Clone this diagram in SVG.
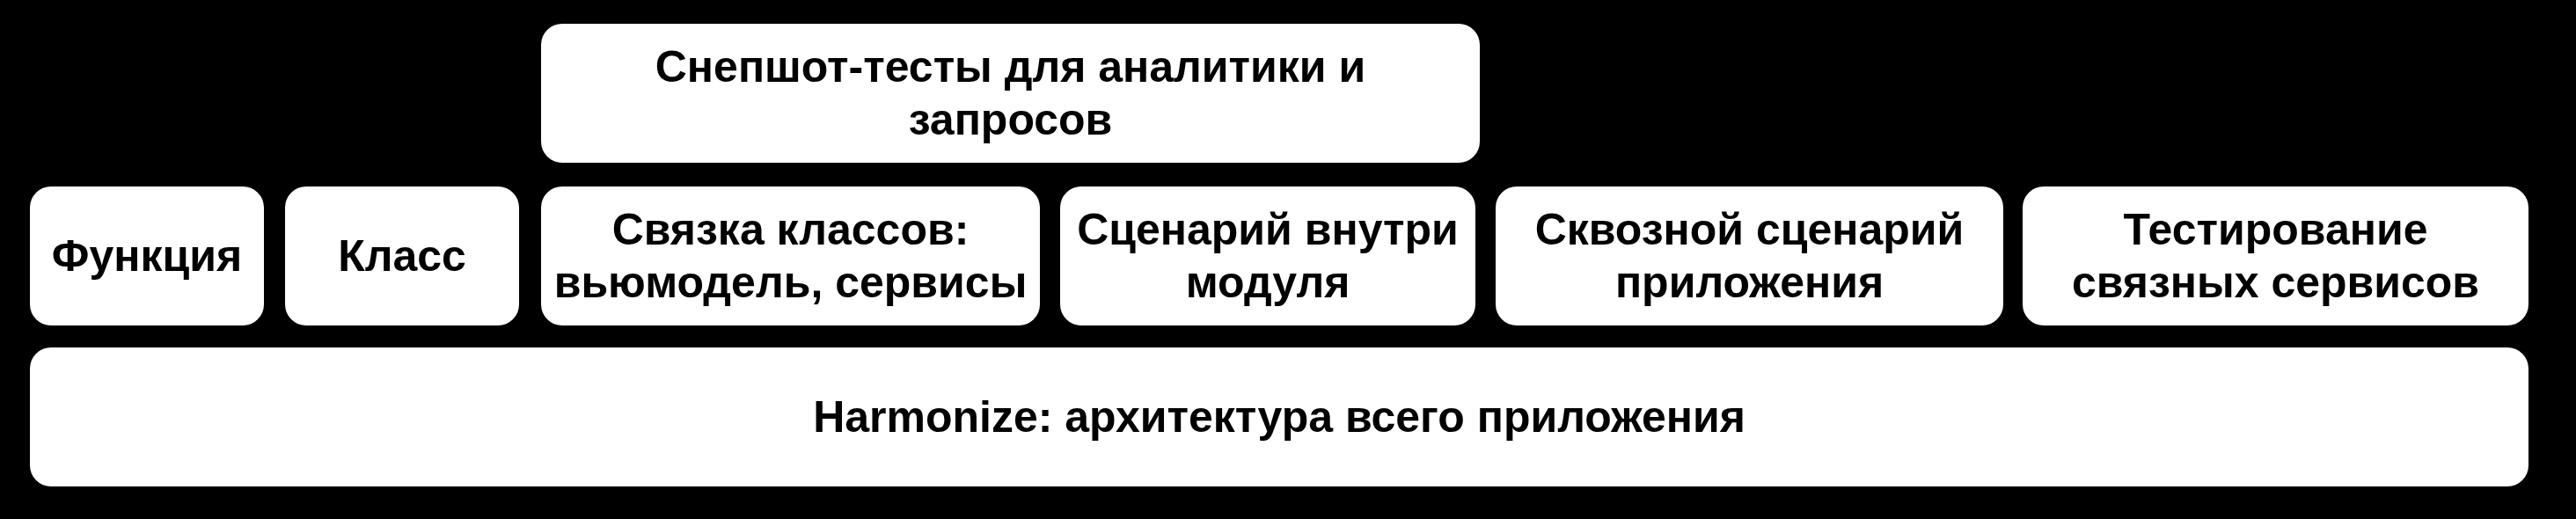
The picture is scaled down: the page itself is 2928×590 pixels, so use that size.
<svg xmlns="http://www.w3.org/2000/svg" width="2928" height="590" viewBox="0 0 2928 590">
<style>
.box{fill:#ffffff;stroke:none}
.t{font-family:"Liberation Sans",Arial,sans-serif;font-size:50px;font-weight:bold;fill:#000000;text-anchor:middle}
</style>
<rect x="0" y="0" width="2928" height="590" fill="#000000"/>
<g id="snapshot">
<rect class="box" x="615" y="27" width="1067" height="158" rx="24"/>
<text class="t" x="1148.5" y="93">Снепшот-тесты для аналитики и</text>
<text class="t" x="1148.5" y="153">запросов</text>
</g>
<g id="function">
<rect class="box" x="34" y="212" width="266" height="158" rx="24"/>
<text class="t" x="167" y="308">Функция</text>
</g>
<g id="class">
<rect class="box" x="324" y="212" width="266" height="158" rx="24"/>
<text class="t" x="457" y="308">Класс</text>
</g>
<g id="classes">
<rect class="box" x="615" y="212" width="567" height="158" rx="24"/>
<text class="t" x="898.5" y="278">Связка классов:</text>
<text class="t" x="898.5" y="338">вьюмодель, сервисы</text>
</g>
<g id="module">
<rect class="box" x="1205" y="212" width="472" height="158" rx="24"/>
<text class="t" x="1441" y="278">Сценарий внутри</text>
<text class="t" x="1441" y="338">модуля</text>
</g>
<g id="e2e">
<rect class="box" x="1700" y="212" width="577" height="158" rx="24"/>
<text class="t" x="1988.5" y="278">Сквозной сценарий</text>
<text class="t" x="1988.5" y="338">приложения</text>
</g>
<g id="services">
<rect class="box" x="2299" y="212" width="575" height="158" rx="24"/>
<text class="t" x="2586.5" y="278">Тестирование</text>
<text class="t" x="2586.5" y="338">связных сервисов</text>
</g>
<g id="harmonize">
<rect class="box" x="34" y="395" width="2840" height="158" rx="24"/>
<text class="t" x="1454" y="491">Harmonize: архитектура всего приложения</text>
</g>
<g id="connectors"></g>
</svg>
